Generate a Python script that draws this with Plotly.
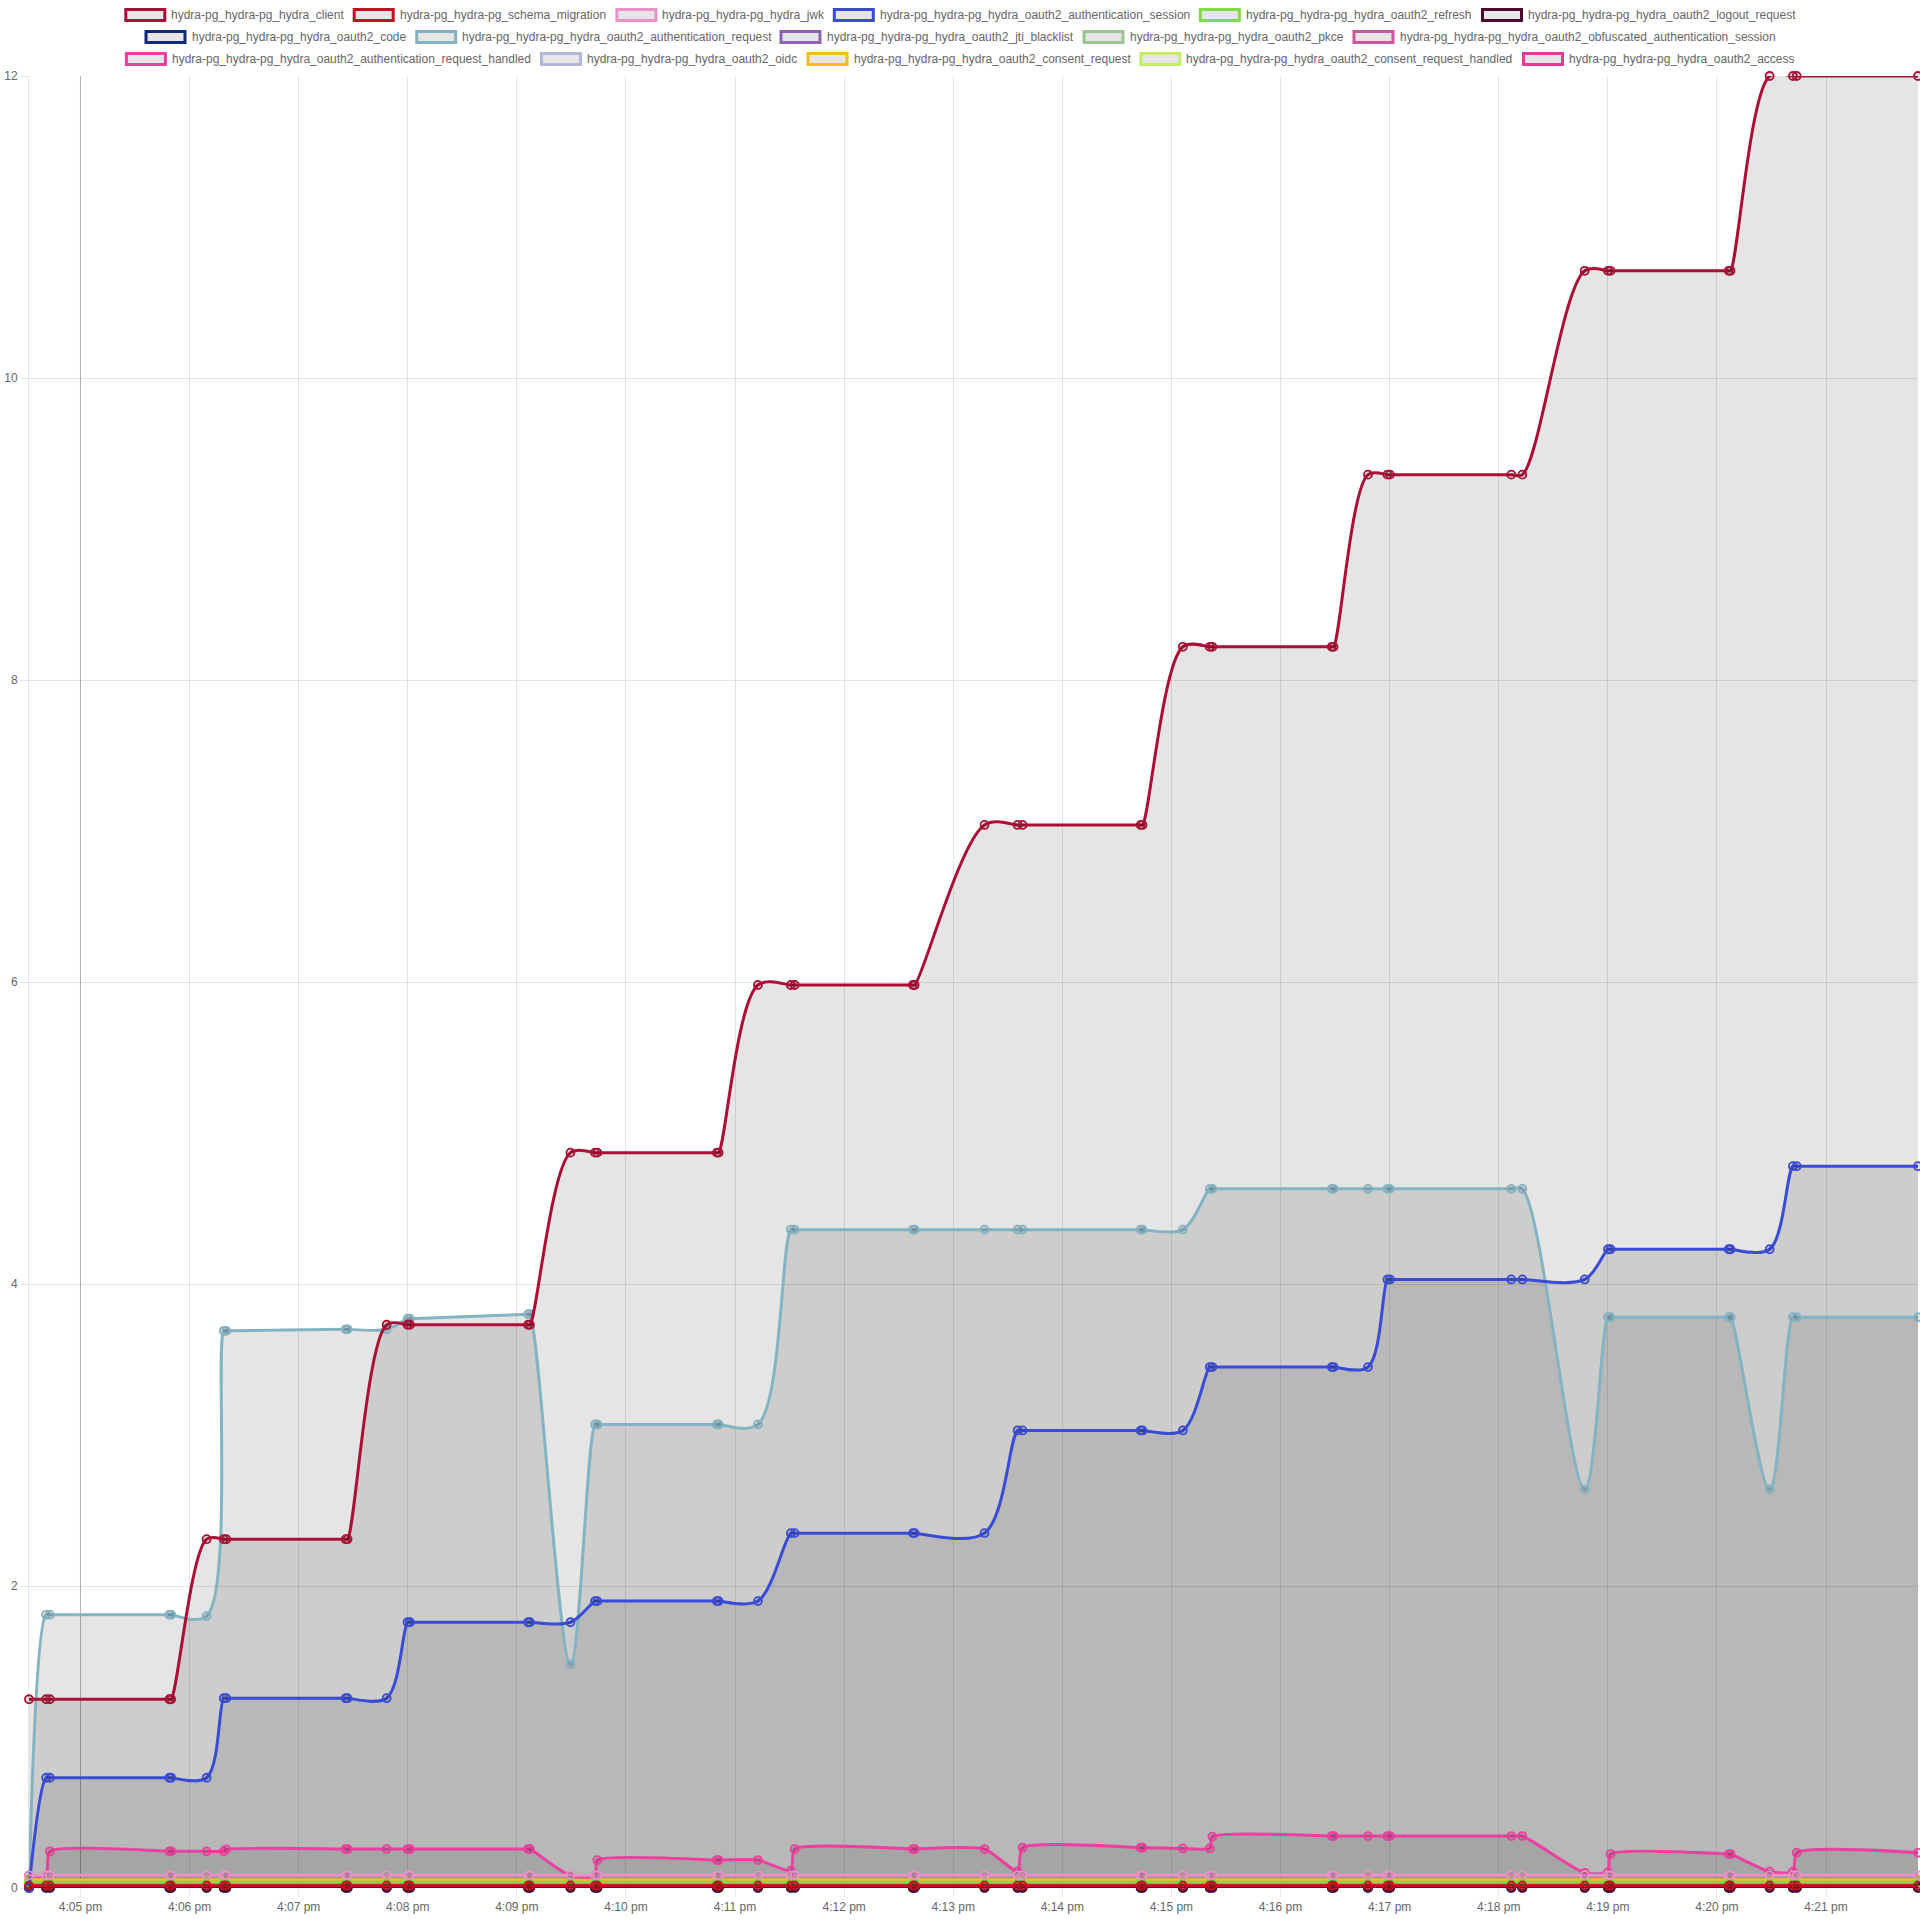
import plotly.graph_objects as go

# ---------------- data ----------------
times = [
    "2024-01-01 16:04:31.7", "2024-01-01 16:04:41.1", "2024-01-01 16:04:43.2", "2024-01-01 16:05:48.9",
    "2024-01-01 16:05:49.9", "2024-01-01 16:06:09.4", "2024-01-01 16:06:18.8", "2024-01-01 16:06:20.2",
    "2024-01-01 16:07:25.9", "2024-01-01 16:07:26.9", "2024-01-01 16:07:48.4", "2024-01-01 16:07:59.9",
    "2024-01-01 16:08:01.2", "2024-01-01 16:09:06.2", "2024-01-01 16:09:07.2", "2024-01-01 16:09:29.5",
    "2024-01-01 16:09:43.0", "2024-01-01 16:09:44.3", "2024-01-01 16:10:50.0", "2024-01-01 16:10:51.0",
    "2024-01-01 16:11:12.6", "2024-01-01 16:11:30.7", "2024-01-01 16:11:32.8", "2024-01-01 16:12:37.8",
    "2024-01-01 16:12:38.8", "2024-01-01 16:13:17.2", "2024-01-01 16:13:35.4", "2024-01-01 16:13:38.1",
    "2024-01-01 16:14:43.1", "2024-01-01 16:14:44.1", "2024-01-01 16:15:06.3", "2024-01-01 16:15:21.1",
    "2024-01-01 16:15:22.5", "2024-01-01 16:16:28.2", "2024-01-01 16:16:29.2", "2024-01-01 16:16:48.1",
    "2024-01-01 16:16:58.8", "2024-01-01 16:17:00.2", "2024-01-01 16:18:06.9", "2024-01-01 16:18:13.0",
    "2024-01-01 16:18:47.3", "2024-01-01 16:19:00.1", "2024-01-01 16:19:01.5", "2024-01-01 16:20:06.5",
    "2024-01-01 16:20:07.5", "2024-01-01 16:20:29.0", "2024-01-01 16:20:41.8", "2024-01-01 16:20:43.9",
    "2024-01-01 16:21:50.6",
]

hydra_client = [1.25, 1.25, 1.25, 1.25, 1.25, 2.31, 2.31, 2.31, 2.31, 2.31,
                3.73, 3.73, 3.73, 3.73, 3.73, 4.87, 4.87, 4.87, 4.87, 4.87,
                5.98, 5.98, 5.98, 5.98, 5.98, 7.04, 7.04, 7.04, 7.04, 7.04,
                8.22, 8.22, 8.22, 8.22, 8.22, 9.36, 9.36, 9.36, 9.36, 9.36,
                10.71, 10.71, 10.71, 10.71, 10.71, 12.0, 12.0, 12.0, 12.0]
schema_migration = [0.0155, 0.0155, 0.0155, 0.0155, 0.0155, 0.0155, 0.0155, 0.0155, 0.0155, 0.0155,
                    0.0155, 0.0155, 0.0155, 0.0155, 0.0155, 0.0155, 0.0155, 0.0155, 0.0155, 0.0155,
                    0.0155, 0.0155, 0.0155, 0.0155, 0.0155, 0.0155, 0.0155, 0.0155, 0.0155, 0.0155,
                    0.0155, 0.0155, 0.0155, 0.0155, 0.0155, 0.0155, 0.0155, 0.0155, 0.0155, 0.0155,
                    0.0155, 0.0155, 0.0155, 0.0155, 0.0155, 0.0155, 0.0155, 0.0155, 0.0155]
hydra_jwk = [0.084, 0.084, 0.084, 0.084, 0.084, 0.084, 0.084, 0.084, 0.084, 0.084,
             0.084, 0.084, 0.084, 0.084, 0.084, 0.084, 0.084, 0.084, 0.084, 0.084,
             0.084, 0.084, 0.084, 0.084, 0.084, 0.084, 0.084, 0.084, 0.084, 0.084,
             0.084, 0.084, 0.084, 0.084, 0.084, 0.084, 0.084, 0.084, 0.084, 0.084,
             0.084, 0.084, 0.084, 0.084, 0.084, 0.084, 0.084, 0.084, 0.084]
auth_session = [0.0, 0.73, 0.73, 0.73, 0.73, 0.73, 1.257, 1.257, 1.257, 1.257,
                1.257, 1.76, 1.76, 1.76, 1.76, 1.76, 1.90, 1.90, 1.90, 1.90,
                1.90, 2.35, 2.35, 2.35, 2.35, 2.35, 3.03, 3.03, 3.03, 3.03,
                3.03, 3.45, 3.45, 3.45, 3.45, 3.45, 4.03, 4.03, 4.03, 4.03,
                4.03, 4.23, 4.23, 4.23, 4.23, 4.23, 4.78, 4.78, 4.78]
oauth2_refresh = [0.0375, 0.0375, 0.0375, 0.0375, 0.0375, 0.0375, 0.0375, 0.0375, 0.0375, 0.0375,
                  0.0375, 0.0375, 0.0375, 0.0375, 0.0375, 0.0375, 0.0375, 0.0375, 0.0375, 0.0375,
                  0.0375, 0.0375, 0.0375, 0.0375, 0.0375, 0.0375, 0.0375, 0.0375, 0.0375, 0.0375,
                  0.0375, 0.0375, 0.0375, 0.0375, 0.0375, 0.0375, 0.0375, 0.0375, 0.0375, 0.0375,
                  0.0375, 0.0375, 0.0375, 0.0375, 0.0375, 0.0375, 0.0375, 0.0375, 0.0375]
logout_request = [0.003, 0.003, 0.003, 0.003, 0.003, 0.003, 0.003, 0.003, 0.003, 0.003,
                  0.003, 0.003, 0.003, 0.003, 0.003, 0.003, 0.003, 0.003, 0.003, 0.003,
                  0.003, 0.003, 0.003, 0.003, 0.003, 0.003, 0.003, 0.003, 0.003, 0.003,
                  0.003, 0.003, 0.003, 0.003, 0.003, 0.003, 0.003, 0.003, 0.003, 0.003,
                  0.003, 0.003, 0.003, 0.003, 0.003, 0.003, 0.003, 0.003, 0.003]
oauth2_code = [0.002, 0.002, 0.002, 0.002, 0.002, 0.002, 0.002, 0.002, 0.002, 0.002,
               0.002, 0.002, 0.002, 0.002, 0.002, 0.002, 0.002, 0.002, 0.002, 0.002,
               0.002, 0.002, 0.002, 0.002, 0.002, 0.002, 0.002, 0.002, 0.002, 0.002,
               0.002, 0.002, 0.002, 0.002, 0.002, 0.002, 0.002, 0.002, 0.002, 0.002,
               0.002, 0.002, 0.002, 0.002, 0.002, 0.002, 0.002, 0.002, 0.002]
auth_request = [0.0, 1.81, 1.81, 1.81, 1.81, 1.80, 3.69, 3.69, 3.70, 3.70,
                3.70, 3.77, 3.77, 3.80, 3.80, 1.48, 3.07, 3.07, 3.07, 3.07,
                3.07, 4.36, 4.36, 4.36, 4.36, 4.36, 4.36, 4.36, 4.36, 4.36,
                4.36, 4.63, 4.63, 4.63, 4.63, 4.63, 4.63, 4.63, 4.63, 4.63,
                2.64, 3.78, 3.78, 3.78, 3.78, 2.64, 3.78, 3.78, 3.78]
jti_blacklist = [0.0, 0.0, 0.0, 0.0, 0.0, 0.0, 0.0, 0.0, 0.0, 0.0,
                 0.0, 0.0, 0.0, 0.0, 0.0, 0.0, 0.0, 0.0, 0.0, 0.0,
                 0.0, 0.0, 0.0, 0.0, 0.0, 0.0, 0.0, 0.0, 0.0, 0.0,
                 0.0, 0.0, 0.0, 0.0, 0.0, 0.0, 0.0, 0.0, 0.0, 0.0,
                 0.0, 0.0, 0.0, 0.0, 0.0, 0.0, 0.0, 0.0, 0.0]
oauth2_pkce = [0.0, 0.0, 0.0, 0.0, 0.0, 0.0, 0.0, 0.0, 0.0, 0.0,
               0.0, 0.0, 0.0, 0.0, 0.0, 0.0, 0.0, 0.0, 0.0, 0.0,
               0.0, 0.0, 0.0, 0.0, 0.0, 0.0, 0.0, 0.0, 0.0, 0.0,
               0.0, 0.0, 0.0, 0.0, 0.0, 0.0, 0.0, 0.0, 0.0, 0.0,
               0.0, 0.0, 0.0, 0.0, 0.0, 0.0, 0.0, 0.0, 0.0]
obfuscated_session = [0.008, 0.008, 0.008, 0.008, 0.008, 0.008, 0.008, 0.008, 0.008, 0.008,
                      0.008, 0.008, 0.008, 0.008, 0.008, 0.008, 0.008, 0.008, 0.008, 0.008,
                      0.008, 0.008, 0.008, 0.008, 0.008, 0.008, 0.008, 0.008, 0.008, 0.008,
                      0.008, 0.008, 0.008, 0.008, 0.008, 0.008, 0.008, 0.008, 0.008, 0.008,
                      0.008, 0.008, 0.008, 0.008, 0.008, 0.008, 0.008, 0.008, 0.008]
request_handled = [0.084, 0.084, 0.243, 0.243, 0.243, 0.243, 0.243, 0.256, 0.258, 0.258,
                   0.258, 0.258, 0.258, 0.258, 0.258, 0.08, 0.08, 0.185, 0.185, 0.185,
                   0.185, 0.115, 0.258, 0.258, 0.258, 0.258, 0.11, 0.267, 0.267, 0.267,
                   0.262, 0.262, 0.34, 0.344, 0.344, 0.344, 0.344, 0.344, 0.344, 0.344,
                   0.10, 0.105, 0.225, 0.225, 0.225, 0.108, 0.108, 0.234, 0.234]
oauth2_oidc = [0.0, 0.0, 0.0, 0.0, 0.0, 0.0, 0.0, 0.0, 0.0, 0.0,
               0.0, 0.0, 0.0, 0.0, 0.0, 0.0, 0.0, 0.0, 0.0, 0.0,
               0.0, 0.0, 0.0, 0.0, 0.0, 0.0, 0.0, 0.0, 0.0, 0.0,
               0.0, 0.0, 0.0, 0.0, 0.0, 0.0, 0.0, 0.0, 0.0, 0.0,
               0.0, 0.0, 0.0, 0.0, 0.0, 0.0, 0.0, 0.0, 0.0]
consent_request = [0.055, 0.055, 0.055, 0.055, 0.055, 0.055, 0.055, 0.055, 0.055, 0.055,
                   0.055, 0.055, 0.055, 0.055, 0.055, 0.055, 0.055, 0.055, 0.055, 0.055,
                   0.055, 0.055, 0.055, 0.055, 0.055, 0.055, 0.055, 0.055, 0.055, 0.055,
                   0.055, 0.055, 0.055, 0.055, 0.055, 0.055, 0.055, 0.055, 0.055, 0.055,
                   0.055, 0.055, 0.055, 0.055, 0.055, 0.055, 0.055, 0.055, 0.055]
consent_handled = [0.045, 0.045, 0.045, 0.045, 0.045, 0.045, 0.045, 0.045, 0.045, 0.045,
                   0.045, 0.045, 0.045, 0.045, 0.045, 0.045, 0.045, 0.045, 0.045, 0.045,
                   0.045, 0.045, 0.045, 0.045, 0.045, 0.045, 0.045, 0.045, 0.045, 0.045,
                   0.045, 0.045, 0.045, 0.045, 0.045, 0.045, 0.045, 0.045, 0.045, 0.045,
                   0.045, 0.045, 0.045, 0.045, 0.045, 0.045, 0.045, 0.045, 0.045]
oauth2_access = [0.012, 0.012, 0.012, 0.012, 0.012, 0.012, 0.012, 0.012, 0.012, 0.012,
                 0.012, 0.012, 0.012, 0.012, 0.012, 0.012, 0.012, 0.012, 0.012, 0.012,
                 0.012, 0.012, 0.012, 0.012, 0.012, 0.012, 0.012, 0.012, 0.012, 0.012,
                 0.012, 0.012, 0.012, 0.012, 0.012, 0.012, 0.012, 0.012, 0.012, 0.012,
                 0.012, 0.012, 0.012, 0.012, 0.012, 0.012, 0.012, 0.012, 0.012]

series_names = [
    "hydra-pg_hydra-pg_hydra_client", "hydra-pg_hydra-pg_schema_migration", "hydra-pg_hydra-pg_hydra_jwk",
    "hydra-pg_hydra-pg_hydra_oauth2_authentication_session", "hydra-pg_hydra-pg_hydra_oauth2_refresh",
    "hydra-pg_hydra-pg_hydra_oauth2_logout_request", "hydra-pg_hydra-pg_hydra_oauth2_code",
    "hydra-pg_hydra-pg_hydra_oauth2_authentication_request", "hydra-pg_hydra-pg_hydra_oauth2_jti_blacklist",
    "hydra-pg_hydra-pg_hydra_oauth2_pkce", "hydra-pg_hydra-pg_hydra_oauth2_obfuscated_authentication_session",
    "hydra-pg_hydra-pg_hydra_oauth2_authentication_request_handled", "hydra-pg_hydra-pg_hydra_oauth2_oidc",
    "hydra-pg_hydra-pg_hydra_oauth2_consent_request", "hydra-pg_hydra-pg_hydra_oauth2_consent_request_handled",
    "hydra-pg_hydra-pg_hydra_oauth2_access",
]
series_values = [hydra_client, schema_migration, hydra_jwk, auth_session, oauth2_refresh, logout_request,
                 oauth2_code, auth_request, jti_blacklist, oauth2_pkce, obfuscated_session,
                 request_handled, oauth2_oidc, consent_request, consent_handled, oauth2_access]

tick_times = ["2024-01-01 16:05:00", "2024-01-01 16:06:00", "2024-01-01 16:07:00", "2024-01-01 16:08:00",
              "2024-01-01 16:09:00", "2024-01-01 16:10:00", "2024-01-01 16:11:00", "2024-01-01 16:12:00",
              "2024-01-01 16:13:00", "2024-01-01 16:14:00", "2024-01-01 16:15:00", "2024-01-01 16:16:00",
              "2024-01-01 16:17:00", "2024-01-01 16:18:00", "2024-01-01 16:19:00", "2024-01-01 16:20:00",
              "2024-01-01 16:21:00"]
tick_labels = ["4:05 pm", "4:06 pm", "4:07 pm", "4:08 pm", "4:09 pm", "4:10 pm", "4:11 pm", "4:12 pm",
               "4:13 pm", "4:14 pm", "4:15 pm", "4:16 pm", "4:17 pm", "4:18 pm", "4:19 pm", "4:20 pm",
               "4:21 pm"]
y_ticks = [0, 2, 4, 6, 8, 10, 12]

# ---------------- styles ----------------
colors = ["#ab1034", "#c5101f", "#e892c8", "#3a4bd6", "#80da4c", "#4b0a2e", "#10297a", "#84b3c3",
          "#8c62b6", "#9cc493", "#cf5699", "#ec3f9e", "#b3b7d8", "#f5bd15", "#c3ed67", "#de3d93"]
smooth = [1.0, 1.0, 1.0, 1.0, 1.0, 1.0, 1.0, 1.0, 1.0, 1.0, 1.0, 0.6, 1.0, 1.0, 1.0, 1.0]
FILL = "rgba(0,0,0,0.1)"
GRID = "rgba(0,0,0,0.1)"
FONT = "Liberation Sans, Arial, Helvetica, sans-serif"

W, H = 1920, 1920
ML, MR, MT, MB = 29, 2, 76, 32
PW, PH = W - ML - MR, H - MT - MB

fig = go.Figure()
# fills first (all below every line, like Chart.js)
for i in reversed(range(len(series_names))):
    fig.add_trace(go.Scatter(
        x=times, y=series_values[i], mode="none",
        line=dict(shape="spline", smoothing=smooth[i]),
        fill="tozeroy", fillcolor=FILL, showlegend=False, hoverinfo="skip",
    ))
# lines and points
for i in reversed(range(len(series_names))):
    fig.add_trace(go.Scatter(
        x=times, y=series_values[i], name=series_names[i], mode="lines+markers",
        line=dict(color=colors[i], width=3, shape="spline", smoothing=smooth[i]),
        marker=dict(size=8, color=FILL, line=dict(color=colors[i], width=1.8)),
        showlegend=False, cliponaxis=False,
    ))

# ---------------- Chart.js-like legend (boxes + text) ----------------
legend_rows = [[0, 1, 2, 3, 4, 5], [6, 7, 8, 9, 10], [11, 12, 13, 14, 15]]
legend_box_left = [[124.3, 352.7, 615.4, 832.8, 1198.8, 1481.0],
                   [144.5, 415.2, 779.5, 1082.5, 1352.5],
                   [124.9, 540.0, 806.5, 1139.4, 1522.0]]
legend_row_center = [15.0, 37.0, 59.0]


def px_x(p):
    return (p - ML) / PW


def px_y(p):
    return (H - MB - p) / PH


shapes = []
annotations = []
for r, row in enumerate(legend_rows):
    cy = legend_row_center[r]
    for k, si in enumerate(row):
        bx = legend_box_left[r][k]
        shapes.append(dict(type="rect", xref="paper", yref="paper",
                           x0=px_x(bx + 1.5), x1=px_x(bx + 40.5), y0=px_y(cy + 5.5), y1=px_y(cy - 5.5),
                           line=dict(color=colors[si], width=3), fillcolor="#e6e6e6", layer="above"))
        annotations.append(dict(xref="paper", yref="paper", x=px_x(bx + 45), y=px_y(cy),
                                xanchor="left", yanchor="middle", showarrow=False,
                                text=series_names[si], font=dict(size=12, color="#666", family=FONT)))

# darker vertical line at 4:05
shapes.append(dict(type="line", xref="x", yref="paper", x0=tick_times[0], x1=tick_times[0], y0=0, y1=1,
                   line=dict(color="rgba(0,0,0,0.22)", width=1), layer="below"))

fig.update_layout(
    width=W, height=H, autosize=False,
    margin=dict(l=ML, r=MR, t=MT, b=MB, pad=0),
    paper_bgcolor="white", plot_bgcolor="white",
    font=dict(family=FONT, size=12, color="#666"),
    showlegend=False, hovermode="x",
    shapes=shapes, annotations=annotations,
    xaxis=dict(type="date", range=[times[0], times[-1]], tickvals=tick_times, ticktext=tick_labels,
               showgrid=True, gridcolor=GRID, gridwidth=1, zeroline=False, showline=False,
               ticks="outside", ticklen=8, tickcolor=GRID, tickfont=dict(size=12, color="#666")),
    yaxis=dict(range=[0, 12], tickvals=y_ticks, showgrid=True, gridcolor=GRID,
               gridwidth=1, zeroline=False, showline=True, linecolor=GRID, linewidth=1,
               ticks="outside", ticklen=8, tickcolor=GRID, tickfont=dict(size=12, color="#666")),
)

fig.write_html("out.html", config={"displayModeBar": False},
               post_script="document.body.style.margin='0';document.body.style.overflow='hidden';")
